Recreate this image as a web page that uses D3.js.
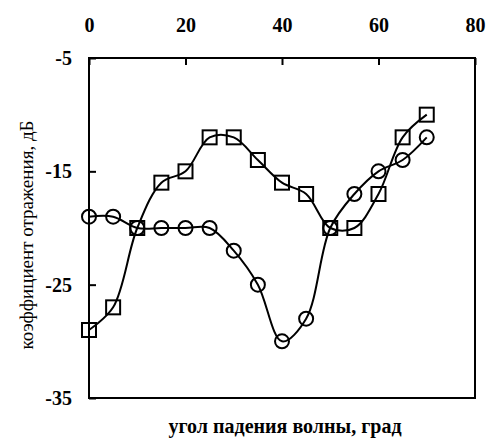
<!DOCTYPE html>
<html>
<head>
<meta charset="utf-8">
<script src="https://cdn.jsdelivr.net/npm/d3@7"></script>
<style>
  body { margin: 0; background: #fff; }
</style>
</head>
<body>
<svg id="chart" width="489" height="447"></svg>
<script>
// angle of incidence, degrees
const angles = [0, 5, 10, 15, 20, 25, 30, 35, 40, 45, 50, 55, 60, 65, 70];
// reflection coefficient, dB
const squareSeries = [-29, -27, -20, -16, -15, -12, -12, -14, -16, -17, -20, -20, -17, -12, -10];
const circleSeries = [-19, -19, -20, -20, -20, -20, -22, -25, -30, -28, -20, -17, -15, -14, -12];
const xTicks = [0, 20, 40, 60, 80];
const yTicks = [-5, -15, -25, -35];

const serif = "'Liberation Serif', 'DejaVu Serif', serif";
const svg = d3.select("#chart");
const plotLeft = 89, plotRight = 475, plotTop = 58, plotBottom = 398;

const x = d3.scaleLinear().domain([0, 80]).range([plotLeft, plotRight]);
const y = d3.scaleLinear().domain([-35, -5]).range([plotBottom, plotTop]);

// frame
svg.append("rect")
  .attr("x", plotLeft).attr("y", plotTop)
  .attr("width", plotRight - plotLeft).attr("height", plotBottom - plotTop)
  .attr("fill", "none").attr("stroke", "#000").attr("stroke-width", 2);

// top axis, ticks inside
const xAxis = svg.append("g")
  .attr("transform", "translate(0," + plotTop + ")")
  .call(d3.axisTop(x).tickValues(xTicks).tickSizeInner(-7).tickSizeOuter(0).tickPadding(26));
xAxis.select(".domain").remove();
xAxis.selectAll("line").attr("stroke-width", 2);
xAxis.selectAll("text")
  .attr("font-family", serif).attr("font-weight", "bold").attr("font-size", 20);

// left axis, ticks inside (plain hyphen for the minus, as in the original)
const yAxis = svg.append("g")
  .attr("transform", "translate(" + plotLeft + ",0)")
  .call(d3.axisLeft(y).tickValues(yTicks).tickSizeInner(-7).tickSizeOuter(0).tickPadding(17)
    .tickFormat(d => String(d)));
yAxis.select(".domain").remove();
yAxis.selectAll("line").attr("stroke-width", 2);
yAxis.selectAll("text")
  .attr("font-family", serif).attr("font-weight", "bold").attr("font-size", 20);

// axis titles
svg.append("text")
  .attr("x", 285).attr("y", 433)
  .attr("text-anchor", "middle")
  .attr("font-family", serif).attr("font-weight", "bold").attr("font-size", 20)
  .text("угол падения волны, град");

svg.append("text")
  .attr("transform", "translate(33,235) rotate(-90)")
  .attr("text-anchor", "middle")
  .attr("font-family", serif).attr("font-size", 19)
  .text("коэффициент отражения, дБ");

const line = d3.line()
  .x((d, i) => x(angles[i]))
  .y(d => y(d))
  .curve(d3.curveCatmullRom.alpha(0.5));

[circleSeries, squareSeries].forEach(s => {
  svg.append("path")
    .datum(s)
    .attr("d", line)
    .attr("fill", "none")
    .attr("stroke", "#000")
    .attr("stroke-width", 2);
});

// markers
svg.selectAll(".circ")
  .data(circleSeries)
  .enter()
  .append("circle")
  .attr("cx", (d, i) => x(angles[i]))
  .attr("cy", d => y(d))
  .attr("r", 7)
  .attr("fill", "none")
  .attr("stroke", "#000")
  .attr("stroke-width", 2);

svg.selectAll(".sq")
  .data(squareSeries)
  .enter()
  .append("rect")
  .attr("x", (d, i) => x(angles[i]) - 7)
  .attr("y", d => y(d) - 7)
  .attr("width", 14)
  .attr("height", 14)
  .attr("fill", "none")
  .attr("stroke", "#000")
  .attr("stroke-width", 2);
</script>
</body>
</html>
